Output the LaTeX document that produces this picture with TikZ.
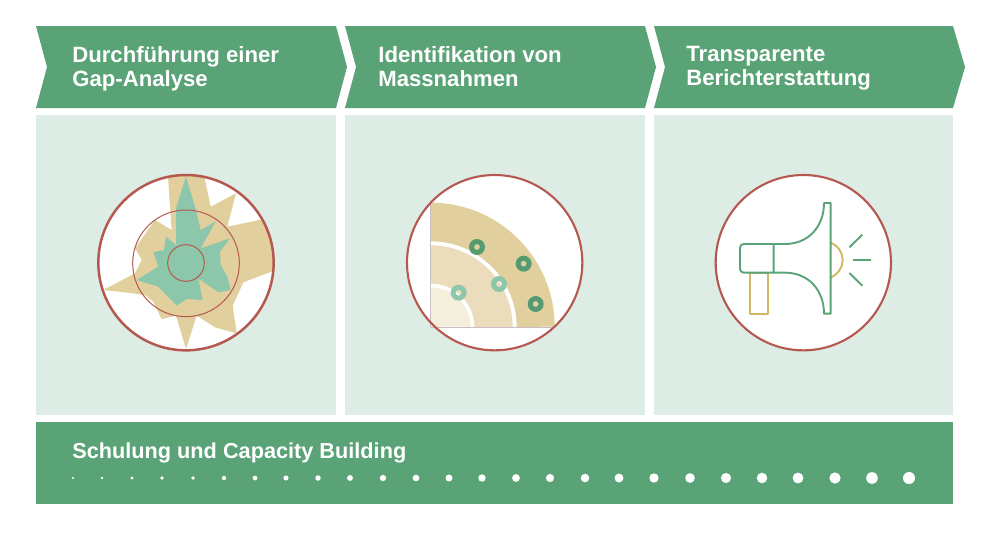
\documentclass[tikz,border=0pt]{standalone}
\usepackage{fontspec}
\setmainfont{Liberation Sans}
\definecolor{gruen}{HTML}{59A377}
\definecolor{blass}{HTML}{DDECE4}
\definecolor{mint}{HTML}{8CC7AC}
\definecolor{sand}{HTML}{E2CF9E}
\definecolor{sandhell}{HTML}{EBDDBB}
\definecolor{creme}{HTML}{F4EFDC}
\definecolor{rost}{HTML}{B5584F}
\definecolor{ocker}{HTML}{D3B666}
\definecolor{achse}{HTML}{C9BFC4}
\tikzset{
  pfeil/.style={fill=gruen,draw=none},
  feld/.style={fill=blass,draw=none},
  titel/.style={anchor=north west,align=left,text=white,font=\bfseries\fontsize{12.6pt}{13.7pt}\selectfont,inner sep=0pt},
  ring/.style={draw=rost,line width=0.42mm},
  duenn/.style={draw=rost,line width=0.2mm},
  horn/.style={draw=gruen,line width=0.38mm,line join=round},
  griff/.style={draw=ocker,line width=0.38mm,line join=round},
  punkt/.style={circle,fill=white,draw=none,inner sep=0pt},
  marke/.style={even odd rule},
}
\begin{document}
\begin{tikzpicture}[x=0.02cm,y=-0.02cm]
  \useasboundingbox (0,0) rectangle (1000,538);
  % Pfeile
  \fill[pfeil] (36,26) -- (336,26) -- (347,67) -- (336,108) -- (36,108) -- (47,67) -- cycle;
  \fill[pfeil] (345,26) -- (645,26) -- (656,67) -- (645,108) -- (345,108) -- (356,67) -- cycle;
  \fill[pfeil] (654,26) -- (953,26) -- (965,67) -- (953,108) -- (654,108) -- (665,67) -- cycle;
  \node[titel] (t1) at (72,46) {Durchführung einer\\Gap-Analyse};
  \node[titel] (t2) at (378,46) {Identifikation von\\Massnahmen};
  \node[titel] (t3) at (686,46) {Transparente\\Berichterstattung};
  % Felder
  \fill[feld] (36,115) rectangle (336,415);
  \fill[feld] (345,115) rectangle (645,415);
  \fill[feld] (654,115) rectangle (953,415);
  % Gap-Analyse
  \begin{scope}[shift={(90,165)},scale=1/3]
    \fill[white] (288,293) circle (263);
    \begin{scope}
      \clip (288,293) circle (263);
      \fill[sand] (233,20) -- (340,20) -- (362,125) -- (438,85) -- (412,185) -- (508,165) -- (570,160)
        -- (570,310) -- (460,352) -- (428,422) -- (440,505) -- (375,487) -- (320,452) -- (288,552)
        -- (258,452) -- (215,462) -- (190,410) -- (165,390) -- (130,385) -- (40,375) -- (135,325)
        -- (155,285) -- (135,250) -- (195,165) -- (245,195) -- cycle;
    \end{scope}
    \fill[mint] (288,35) -- (318,135) -- (332,195) -- (378,168) -- (332,250) -- (420,220) -- (390,260)
      -- (392,300) -- (412,335) -- (422,375) -- (385,382) -- (325,340) -- (338,405) -- (290,402)
      -- (260,422) -- (205,365) -- (140,345) -- (205,305) -- (190,262) -- (222,255) -- (228,215)
      -- (258,240) -- (258,130) -- cycle;
    \draw[duenn] (288,295) circle (160);
    \draw[duenn] (288,294) circle (55);
    \draw[ring,line width=0.5mm] (288,293) circle (263);
  \end{scope}
  % Massnahmen
  \begin{scope}[shift={(400,170)},scale=1/3]
    \fill[white] (284,278) circle (263);
    \fill[sand] (92,472) -- (92,98) arc[start angle=-90,end angle=0,radius=372] -- cycle;
    \fill[white] (92,472) -- (92,214) arc[start angle=-90,end angle=0,radius=258] -- cycle;
    \fill[sandhell] (92,472) -- (92,226) arc[start angle=-90,end angle=0,radius=246] -- cycle;
    \fill[white] (92,472) -- (92,341) arc[start angle=-90,end angle=0,radius=131] -- cycle;
    \fill[creme] (92,472) -- (92,352) arc[start angle=-90,end angle=0,radius=120] -- cycle;
    \draw[achse,line width=0.25mm] (91,98) -- (91,473) -- (464,473);
    \foreach \x/\y in {231/231,371/281,407/402}
      \fill[gruen!95!black,marke] (\x,\y) circle (24) (\x,\y) circle (9);
    \foreach \x/\y in {176/368,297/342}
      \fill[mint,marke] (\x,\y) circle (24) (\x,\y) circle (9);
    \draw[ring] (284,278) circle (263);
  \end{scope}
  % Berichterstattung
  \begin{scope}[shift={(705,170)},scale=1/3]
    \fill[white] (295,278) circle (263);
    \draw[griff] (136,308) rectangle (190,431);
    \draw[griff] (377,218) .. controls (400,228) and (413,248) .. (413,270) .. controls (413,292) and (400,312) .. (377,323);
    \draw[horn] (206,222) -- (116,222) to[out=180,in=90] (105,233) -- (105,297) to[out=-90,in=180] (116,308) -- (206,308) -- cycle;
    \draw[horn] (206,222) -- (240,222) .. controls (310,222) and (357,170) .. (357,99) -- (377,99) -- (377,431) -- (357,431)
      .. controls (357,360) and (310,308) .. (240,308) -- (206,308);
    \draw[horn] (433,232) -- (472,194);
    \draw[horn] (445,270) -- (499,270);
    \draw[horn] (433,309) -- (472,347);
    \draw[ring] (295,278) circle (263);
  \end{scope}
  % Capacity Building
  \fill[pfeil] (36,422) rectangle (953,504);
  \node[titel,font=\bfseries\fontsize{12.35pt}{13.7pt}\selectfont] (t4) at (72,442) {Schulung und Capacity Building};
  \foreach \x [count=\i] in {73,102,132,162,193,224,255,286,318,350,383,416,449,482,516,550,585,619,654,690,726,762,798,835,872,909}
    \node[punkt,minimum size={(2.4+(\i-1)*0.385)*0.02cm}] (p\i) at (\x,478) {};
\end{tikzpicture}
\end{document}
